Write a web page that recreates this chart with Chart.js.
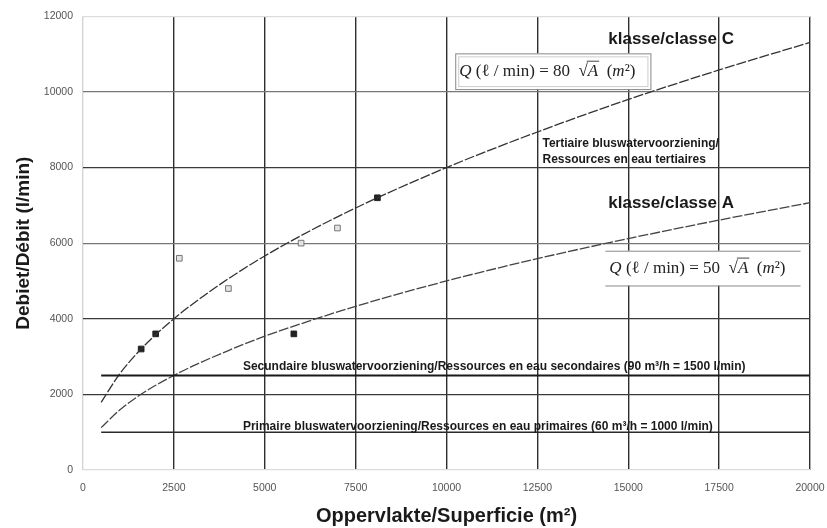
<!DOCTYPE html>
<html>
<head>
<meta charset="utf-8">
<script src="https://cdn.jsdelivr.net/npm/chart.js@4/dist/chart.umd.min.js"></script>
<style>
  body { margin: 0; background: #fff; }
  #wrap { width: 827px; height: 528px; position: relative; }
</style>
</head>
<body>
<div id="wrap"><canvas id="chartDebiet"></canvas></div>
<script>
const curveX = [500, 1000, 1500, 2000, 2500, 3000, 4000, 5000, 6000, 7500, 10000, 12500, 15000, 17500, 20000];
// klasse C curve (l/min)
const classC = [1790, 2530, 3100, 3580, 4000, 4380, 5060, 5660, 6200, 6930, 8000, 8940, 9800, 10580, 11310];
// klasse A curve (l/min)
const classA = [1120, 1580, 1940, 2240, 2500, 2740, 3160, 3540, 3870, 4330, 5000, 5590, 6120, 6610, 7070];

// meetpunten
const filledX = [1600, 2000, 5800, 8100];
const filledY = [3200, 3600, 3600, 7200];
const hollowX = [2650, 4000, 6000, 7000];
const hollowY = [5600, 4800, 6000, 6400];

// bluswatervoorziening niveaus
const levelX = [500, 20000];
const secondaryY = [2500, 2500];
const primaryY = [1000, 1000];

const xTicks = [0, 2500, 5000, 7500, 10000, 12500, 15000, 17500, 20000];
const yTicks = [0, 2000, 4000, 6000, 8000, 10000, 12000];

const pts = (xs, ys) => xs.map((x, i) => ({ x: x, y: ys[i] }));

// tekstlabels in data-coordinaten
const labels = [
    { text: 'klasse/classe C', x: 14450, y: 11400, font: 'bold 17px "Liberation Sans"' },
    { text: 'klasse/classe A', x: 14450, y: 7050, font: 'bold 17px "Liberation Sans"' },
    { text: 'Tertiaire bluswatervoorziening/', x: 12640, y: 8620, font: 'bold 12px "Liberation Sans"' },
    { text: 'Ressources en eau tertiaires', x: 12640, y: 8200, font: 'bold 12px "Liberation Sans"' },
    { text: 'Secundaire bluswatervoorziening/Ressources en eau secondaires (90 m³/h = 1500 l/min)', x: 4400, y: 2720, font: 'bold 12px "Liberation Sans"' },
    { text: 'Primaire bluswatervoorziening/Ressources en eau primaires (60 m³/h = 1000 l/min)', x: 4400, y: 1140, font: 'bold 12px "Liberation Sans"' }
];

const formulas = [
    { coef: '80', x0: 10240, x1: 15610, y0: 11020, y1: 10075, frame: 'box' },
    { coef: '50', x0: 14370, x1: 19740, y0: 5800, y1: 4880, frame: 'lines' }
];

function drawFormula(ctx, f, sx, sy) {
    const l = sx.getPixelForValue(f.x0), r = sx.getPixelForValue(f.x1);
    const t = sy.getPixelForValue(f.y0), b = sy.getPixelForValue(f.y1);
    ctx.fillStyle = '#fff';
    ctx.fillRect(l, t, r - l, b - t);
    ctx.strokeStyle = '#888';
    ctx.lineWidth = 1;
    if (f.frame === 'box') {
        ctx.strokeRect(l + 0.5, t + 0.5, r - l, b - t);
        ctx.strokeStyle = '#ccc';
        ctx.strokeRect(l + 3.5, t + 3.5, r - l - 6, b - t - 6);
    } else {
        ctx.beginPath();
        ctx.moveTo(l, t + 0.5); ctx.lineTo(r, t + 0.5);
        ctx.moveTo(l, b + 0.5); ctx.lineTo(r, b + 0.5);
        ctx.stroke();
    }
    const it = 'italic 17px "Liberation Serif"', rm = '17px "Liberation Serif"';
    const parts = [
        ['Q', it], [' (ℓ / min) = ' + f.coef + '  ', rm], ['√', rm], ['A', it],
        ['  (', rm], ['m', it], ['²', rm], [')', rm]
    ];
    let x = l + 4;
    const y = (t + b) / 2;
    ctx.fillStyle = '#222';
    ctx.textBaseline = 'middle';
    ctx.textAlign = 'left';
    let sqrtStart = 0;
    parts.forEach(p => {
        ctx.font = p[1];
        if (p[0] === '√') sqrtStart = x + ctx.measureText('√').width;
        ctx.fillText(p[0], x, y);
        x += ctx.measureText(p[0]).width;
        if (p[0] === 'A') {
            ctx.strokeStyle = '#444';
            ctx.beginPath();
            ctx.moveTo(sqrtStart - 1, y - 10); ctx.lineTo(x + 1, y - 10);
            ctx.stroke();
        }
    });
}

const textPlugin = {
    id: 'textPlugin',
    afterDatasetsDraw(chart) {
        const ctx = chart.ctx, sx = chart.scales.x, sy = chart.scales.y;
        ctx.save();
        formulas.forEach(f => drawFormula(ctx, f, sx, sy));
        ctx.fillStyle = '#1a1a1a';
        ctx.textAlign = 'left';
        ctx.textBaseline = 'middle';
        labels.forEach(lb => {
            ctx.font = lb.font;
            ctx.fillText(lb.text, sx.getPixelForValue(lb.x), sy.getPixelForValue(lb.y));
        });
        ctx.restore();
    }
};

const ctxDebiet = document.getElementById('chartDebiet');
new Chart(ctxDebiet, {
    type: 'scatter',
    data: {
        datasets: [
            { data: pts(levelX, secondaryY), showLine: true, borderColor: '#1a1a1a', borderWidth: 2.2, pointRadius: 0 },
            { data: pts(levelX, primaryY), showLine: true, borderColor: '#2a2a2a', borderWidth: 1.6, pointRadius: 0 },
            { data: pts(curveX, classC), showLine: true, borderColor: '#333', borderWidth: 1.3, borderDash: [10, 2], pointRadius: 0, cubicInterpolationMode: 'monotone' },
            { data: pts(curveX, classA), showLine: true, borderColor: '#444', borderWidth: 1.3, borderDash: [10, 2], pointRadius: 0, cubicInterpolationMode: 'monotone' },
            { data: pts(filledX, filledY), pointStyle: 'rect', pointRadius: 4, backgroundColor: '#222', borderColor: '#222', borderWidth: 1 },
            { data: pts(hollowX, hollowY), pointStyle: 'rect', pointRadius: 4, backgroundColor: '#e4e4e4', borderColor: '#777', borderWidth: 1 }
        ]
    },
    options: {
        responsive: true,
        maintainAspectRatio: false,
        animation: false,
        layout: { padding: { top: 15, right: 17, left: 0, bottom: 0 } },
        plugins: { legend: { display: false }, tooltip: { enabled: false } },
        scales: {
            x: {
                type: 'linear', min: 0, max: 20000,
                afterBuildTicks: s => { s.ticks = xTicks.map(v => ({ value: v })); },
                afterFit: s => { s.height = 58; s.paddingRight = 0; s.paddingLeft = 0; },
                ticks: { color: '#555', font: { family: 'Liberation Sans', size: 10.5 }, padding: 12, maxRotation: 0, callback: v => String(v) },
                grid: {
                    drawTicks: false,
                    color: c => c.tick && c.tick.value === 0 ? '#d4d4d4' : '#2e2e2e',
                    lineWidth: 1.4
                },
                border: { display: false },
                title: { display: true, text: 'Oppervlakte/Superficie (m²)', color: '#1a1a1a', font: { family: 'Liberation Sans', size: 20, weight: 'bold' }, padding: { top: 2, bottom: 0 } }
            },
            y: {
                type: 'linear', min: 0, max: 12000,
                afterBuildTicks: s => { s.ticks = yTicks.map(v => ({ value: v })); },
                afterFit: s => { s.width = 83; },
                ticks: { color: '#555', font: { family: 'Liberation Sans', size: 10.5 }, padding: 10, callback: v => String(v) },
                grid: {
                    drawTicks: false,
                    color: c => {
                        const v = c.tick ? c.tick.value : 0;
                        if (v === 0 || v === 12000) return '#dcdcdc';
                        if (v === 10000 || v === 6000) return '#777';
                        return '#3a3a3a';
                    },
                    lineWidth: 1.3
                },
                border: { display: false },
                title: { display: true, text: 'Debiet/Débit (l/min)', color: '#1a1a1a', font: { family: 'Liberation Sans', size: 19, weight: 'bold' }, padding: { top: 12, bottom: 0 } }
            }
        }
    },
    plugins: [textPlugin]
});
</script>
</body>
</html>
